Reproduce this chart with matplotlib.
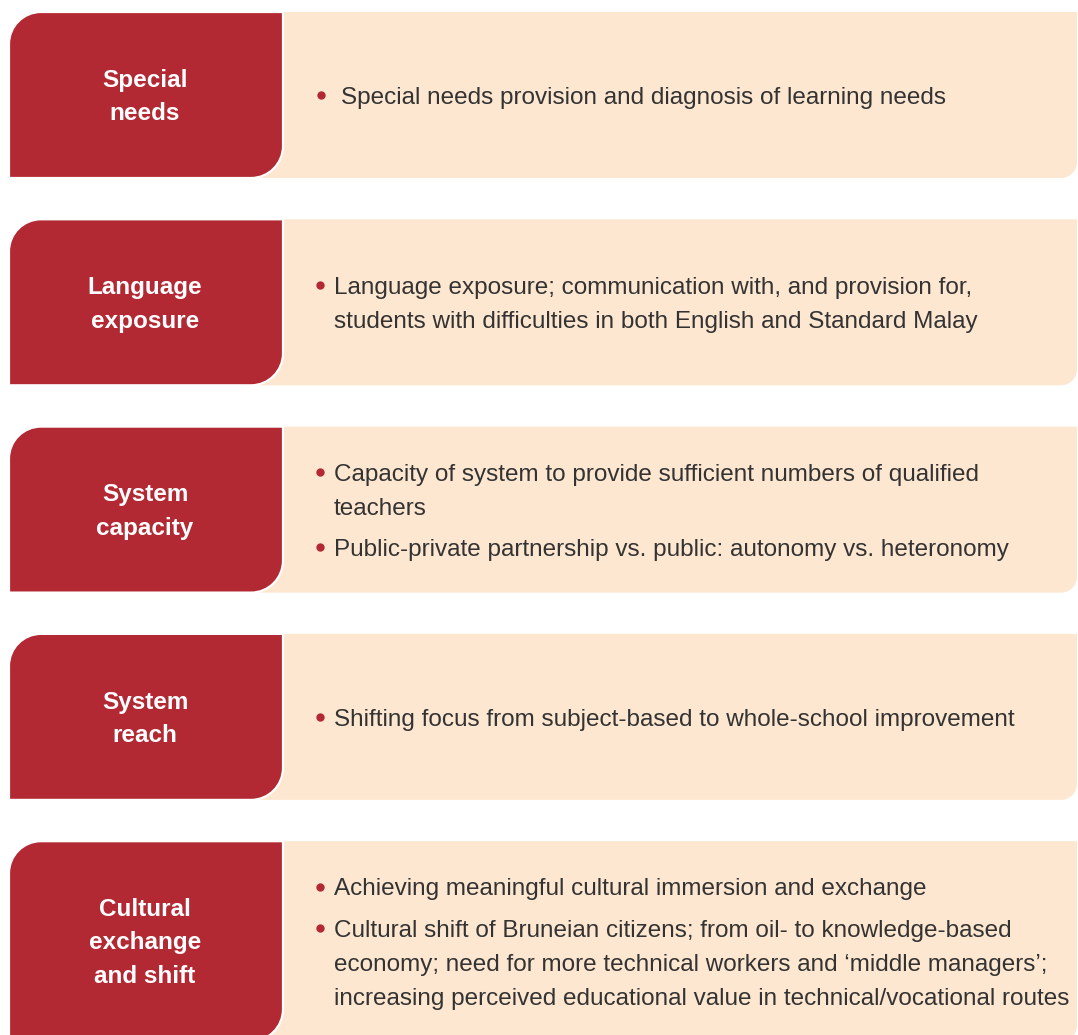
import matplotlib
matplotlib.use("Agg")
import matplotlib.pyplot as plt
from matplotlib.path import Path
from matplotlib.patches import PathPatch

# ---- data ----
categories = [["Special", "needs"],
              ["Language", "exposure"],
              ["System", "capacity"],
              ["System", "reach"],
              ["Cultural", "exchange", "and shift"]]

bullets = [
    [["Special needs provision and diagnosis of learning needs"]],
    [["Language exposure; communication with, and provision for,",
      "students with difficulties in both English and Standard Malay"]],
    [["Capacity of system to provide sufficient numbers of qualified",
      "teachers"],
     ["Public-private partnership vs. public: autonomy vs. heteronomy"]],
    [["Shifting focus from subject-based to whole-school improvement"]],
    [["Achieving meaningful cultural immersion and exchange"],
     ["Cultural shift of Bruneian citizens; from oil- to knowledge-based",
      "economy; need for more technical workers and \u2018middle managers\u2019;",
      "increasing perceived educational value in technical/vocational routes"]],
]

# ---- style ----
RED = "#B22833"
CREAM = "#FDE7D0"
TXT = "#333333"
W, H = 1078, 1035
FONT = "Liberation Sans"
FS = 17.5
LINE = 34
BGAP = 7

fig = plt.figure(figsize=(W / 100, H / 100), dpi=100)
ax = fig.add_axes([0, 0, 1, 1])
ax.set_xlim(0, W)
ax.set_ylim(H, 0)
ax.axis("off")


def box_path(x0, y0, x1, y1, r_tl, r_br):
    k = 0.5523
    verts = [(x0, y0 + r_tl)]
    codes = [Path.MOVETO]
    verts += [(x0, y0 + r_tl * (1 - k)), (x0 + r_tl * (1 - k), y0), (x0 + r_tl, y0)]
    codes += [Path.CURVE4] * 3
    verts += [(x1, y0)]
    codes += [Path.LINETO]
    verts += [(x1, y1 - r_br)]
    codes += [Path.LINETO]
    verts += [(x1, y1 - r_br * (1 - k)), (x1 - r_br * (1 - k), y1), (x1 - r_br, y1)]
    codes += [Path.CURVE4] * 3
    verts += [(x0, y1), (x0, y0 + r_tl)]
    codes += [Path.LINETO, Path.CLOSEPOLY]
    return Path(verts, codes)


top0 = 12
pitch = 207.3
hbox = 166
TOFF = 3  # baseline correction for text

for i, (cat, blist) in enumerate(zip(categories, bullets)):
    y0 = top0 + i * pitch
    y1 = y0 + hbox if i < len(categories) - 1 else y0 + 200
    cy = (y0 + y1) / 2 if i < len(categories) - 1 else 941
    ax.add_patch(PathPatch(box_path(250, y0, W - 1, y1, 0, 16),
                           facecolor=CREAM, edgecolor="none", zorder=1))
    ax.add_patch(PathPatch(box_path(9, y0, 283, y1, 32, 32),
                           facecolor=RED, edgecolor="white", lw=1.6, zorder=2))
    n = len(cat)
    for j, s in enumerate(cat):
        ly = cy + (j - (n - 1) / 2) * 33.5 + 2
        ax.text(145, ly, s, color="white", fontsize=FS, fontweight="bold",
                family=FONT, ha="center", va="center", zorder=3)
    nlines = sum(len(b) for b in blist)
    total = (nlines - 1) * LINE + (len(blist) - 1) * BGAP
    y = cy - total / 2
    tx = 341 if i == 0 else 334
    bx = 321 if i == 0 else 320
    for b in blist:
        ax.plot([bx], [y], "o", color=RED, ms=6, mew=0, zorder=3)
        for ln in b:
            ax.text(tx, y + TOFF, ln, color=TXT, fontsize=FS, family=FONT,
                    ha="left", va="center", zorder=3)
            y += LINE
        y += BGAP

fig.savefig("out.png", dpi=100)
